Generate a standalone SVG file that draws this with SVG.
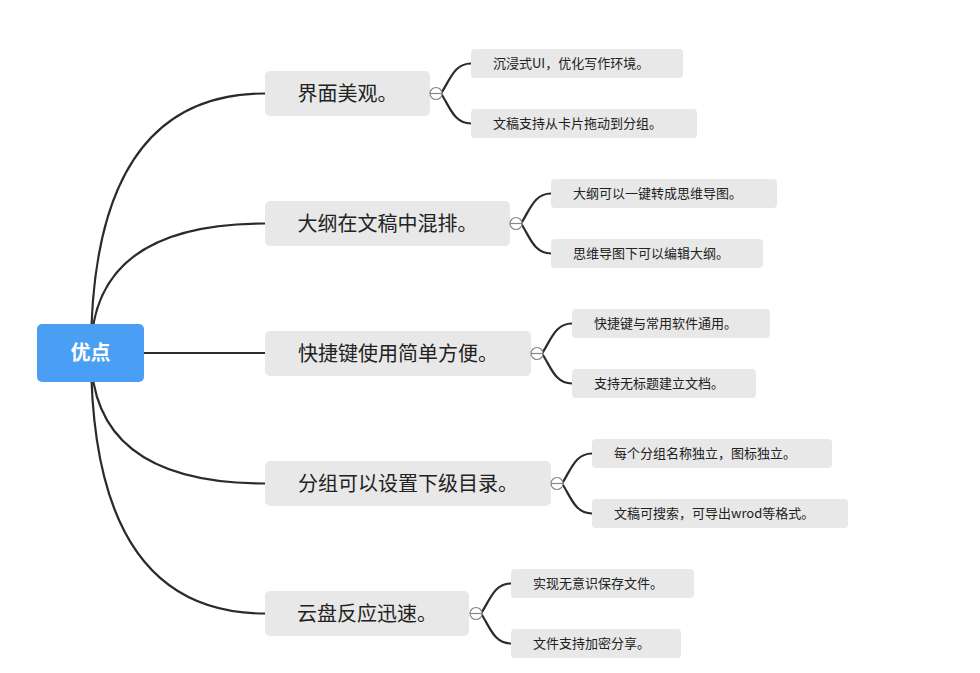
<svg xmlns="http://www.w3.org/2000/svg" width="980" height="673" viewBox="0 0 980 673">
<style>
.bg{fill:#ffffff}
.edge{fill:none;stroke:#2b2b2b;stroke-width:2.2;stroke-linecap:round}
.root{fill:#4a9ff5}
.rt{font-family:"Noto Sans CJK SC","Noto Sans",sans-serif;font-size:20px;font-weight:bold;fill:#ffffff}
.br{fill:#e8e8e8}
.bt{font-family:"Noto Sans CJK SC","Noto Sans",sans-serif;font-size:20px;fill:#222222}
.lf{fill:#e8e8e8}
.lt{font-family:"Noto Sans CJK SC","Noto Sans",sans-serif;font-size:13px;fill:#222222}
.tog{fill:#ffffff;stroke:#888888;stroke-width:1.2}
.togl{stroke:#888888;stroke-width:1.2}
</style>
<rect class="bg" x="0" y="0" width="980" height="673"/>
<g id="connectors">
<path class="edge" d="M91,353 Q91,93.5 265,93.5"/>
<path class="edge" d="M91,353 Q91,223.5 265,223.5"/>
<path class="edge" d="M144,353 H265"/>
<path class="edge" d="M91,353 Q91,483.5 265,483.5"/>
<path class="edge" d="M91,353 Q91,613.5 265,613.5"/>
<path class="edge" d="M441,93.5 C450,80 454,63.5 471,63.5"/>
<path class="edge" d="M441,93.5 C450,107 454,123.5 471,123.5"/>
<path class="edge" d="M521,223.5 C530,210 534,193.5 551,193.5"/>
<path class="edge" d="M521,223.5 C530,237 534,253.5 551,253.5"/>
<path class="edge" d="M542,353.5 C551,340 555,323.5 572,323.5"/>
<path class="edge" d="M542,353.5 C551,367 555,383.5 572,383.5"/>
<path class="edge" d="M562,483.5 C571,470 575,453.5 592,453.5"/>
<path class="edge" d="M562,483.5 C571,497 575,513.5 592,513.5"/>
<path class="edge" d="M481,613.5 C490,600 494,583.5 511,583.5"/>
<path class="edge" d="M481,613.5 C490,627 494,643.5 511,643.5"/>
</g>
<g id="root">
<rect class="root" x="37" y="324" width="107" height="58" rx="5"/>
<text class="rt" x="90.5" y="360" text-anchor="middle">优点</text>
</g>
<g id="b1">
<rect class="br" x="265" y="71" width="165" height="45" rx="5"/>
<text class="bt" x="347.5" y="101" text-anchor="middle">界面美观。</text>
<circle class="tog" cx="436" cy="93.5" r="6"/><line class="togl" x1="430" y1="93.5" x2="442" y2="93.5"/>
</g>
<g id="b1l1"><rect class="lf" x="471" y="49" width="212" height="29" rx="4"/><text class="lt" x="493" y="68">沉浸式UI，优化写作环境。</text></g>
<g id="b1l2"><rect class="lf" x="471" y="109" width="226" height="29" rx="4"/><text class="lt" x="493" y="128">文稿支持从卡片拖动到分组。</text></g>
<g id="b2">
<rect class="br" x="265" y="201" width="245" height="45" rx="5"/>
<text class="bt" x="387.5" y="231" text-anchor="middle">大纲在文稿中混排。</text>
<circle class="tog" cx="516" cy="223.5" r="6"/><line class="togl" x1="510" y1="223.5" x2="522" y2="223.5"/>
</g>
<g id="b2l1"><rect class="lf" x="551" y="179" width="226" height="29" rx="4"/><text class="lt" x="573" y="198">大纲可以一键转成思维导图。</text></g>
<g id="b2l2"><rect class="lf" x="551" y="239" width="212" height="29" rx="4"/><text class="lt" x="573" y="258">思维导图下可以编辑大纲。</text></g>
<g id="b3">
<rect class="br" x="265" y="331" width="266" height="45" rx="5"/>
<text class="bt" x="398" y="361" text-anchor="middle">快捷键使用简单方便。</text>
<circle class="tog" cx="537" cy="353.5" r="6"/><line class="togl" x1="531" y1="353.5" x2="543" y2="353.5"/>
</g>
<g id="b3l1"><rect class="lf" x="572" y="309" width="198" height="29" rx="4"/><text class="lt" x="594" y="328">快捷键与常用软件通用。</text></g>
<g id="b3l2"><rect class="lf" x="572" y="369" width="184" height="29" rx="4"/><text class="lt" x="594" y="388">支持无标题建立文档。</text></g>
<g id="b4">
<rect class="br" x="265" y="461" width="286" height="45" rx="5"/>
<text class="bt" x="408" y="491" text-anchor="middle">分组可以设置下级目录。</text>
<circle class="tog" cx="557" cy="483.5" r="6"/><line class="togl" x1="551" y1="483.5" x2="563" y2="483.5"/>
</g>
<g id="b4l1"><rect class="lf" x="592" y="439" width="240" height="29" rx="4"/><text class="lt" x="614" y="458">每个分组名称独立，图标独立。</text></g>
<g id="b4l2"><rect class="lf" x="592" y="499" width="256" height="29" rx="4"/><text class="lt" x="614" y="518">文稿可搜索，可导出wrod等格式。</text></g>
<g id="b5">
<rect class="br" x="265" y="591" width="204" height="45" rx="5"/>
<text class="bt" x="367" y="621" text-anchor="middle">云盘反应迅速。</text>
<circle class="tog" cx="476" cy="613.5" r="6"/><line class="togl" x1="470" y1="613.5" x2="482" y2="613.5"/>
</g>
<g id="b5l1"><rect class="lf" x="511" y="569" width="183" height="29" rx="4"/><text class="lt" x="533" y="588">实现无意识保存文件。</text></g>
<g id="b5l2"><rect class="lf" x="511" y="629" width="170" height="29" rx="4"/><text class="lt" x="533" y="648">文件支持加密分享。</text></g>
</svg>
